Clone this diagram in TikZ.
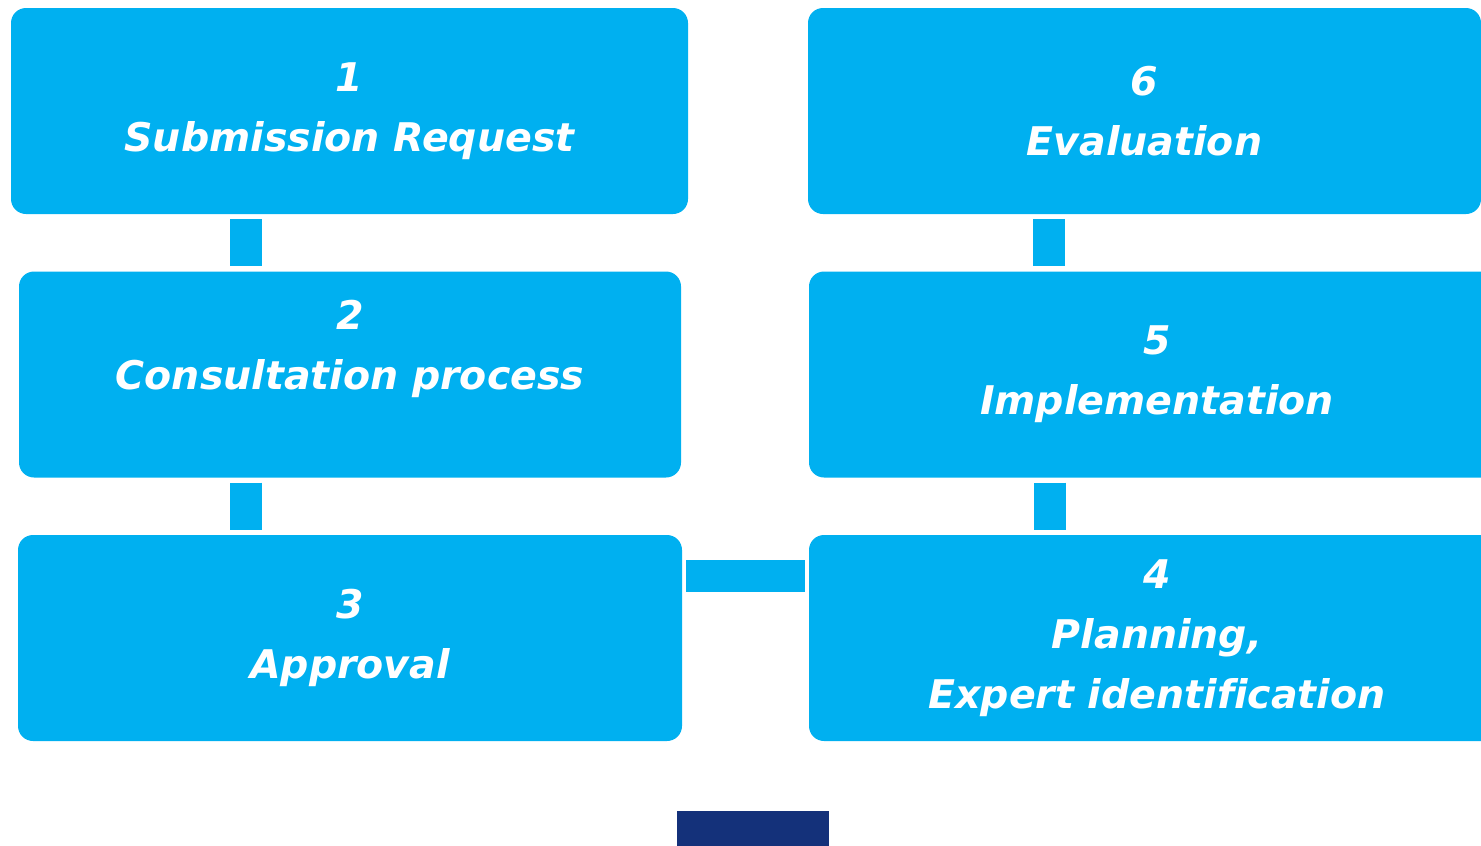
\documentclass[tikz,border=0pt]{standalone}
\usepackage{fontspec}
\setmainfont{DejaVu Sans}[Ligatures=NoCommon]
\usepackage{xcolor}
\usepackage{tikz}
\usetikzlibrary{positioning}
\definecolor{c_step}{RGB}{0,176,240}
\definecolor{c_bar}{RGB}{20,49,122}
\tikzset{c-box/.style={rectangle, rounded corners=15pt, minimum height=206pt, text centered, align=center, text=white, fill=c_step, font=\fontsize{39.5}{60}\selectfont\bfseries\itshape},
link/.style={draw=c_step, line width=32pt, shorten >=5pt, shorten <=5pt},
c-bar/.style={rectangle, fill=c_bar, minimum width=152pt, minimum height=40pt}}

\begin{document}
\begin{tikzpicture}[node distance = 263.5pt, x=1pt, y=-1pt]
\useasboundingbox (0,0) rectangle (1481,846);
% left column
\node (n1) [c-box, minimum width=677pt] at (349.5,111) {
1\\
Submission Request
};
\node (n2) [c-box, below of=n1, xshift=0.5pt, minimum width=662pt] {
2\\
Consultation process\\
\mbox{}
};
\node (n3) [c-box, below of=n2, minimum width=664pt] {
3\\
Approval
};
% right column
\node (n6) [c-box, minimum width=673pt] at (1144.5,111) {
6\\
Evaluation
};
\node (n5) [c-box, below of=n6, xshift=12.5pt, minimum width=696pt] {
5\\
Implementation
};
\node (n4) [c-box, below of=n5, minimum width=696pt] {
4\\
Planning,\\
Expert identification
};
\node (bar) [c-bar] at (753,831) {};
\draw [link] ([xshift=-103.5pt]n1.south) -- ([xshift=-103.5pt]n1.south |- n2.north);
\draw [link] ([xshift=-104pt]n2.south) -- ([xshift=-104pt]n2.south |- n3.north);
\draw [link, shorten >=4pt, shorten <=4pt] ([yshift=62pt]n3.east) -- ([yshift=62pt]n3.east -| n4.west);
\draw [link] ([xshift=-107pt]n5.south) -- ([xshift=-107pt]n5.south |- n4.north);
\draw [link] ([xshift=-95.5pt]n6.south) -- ([xshift=-95.5pt]n6.south |- n5.north);
\end{tikzpicture}
\end{document}
